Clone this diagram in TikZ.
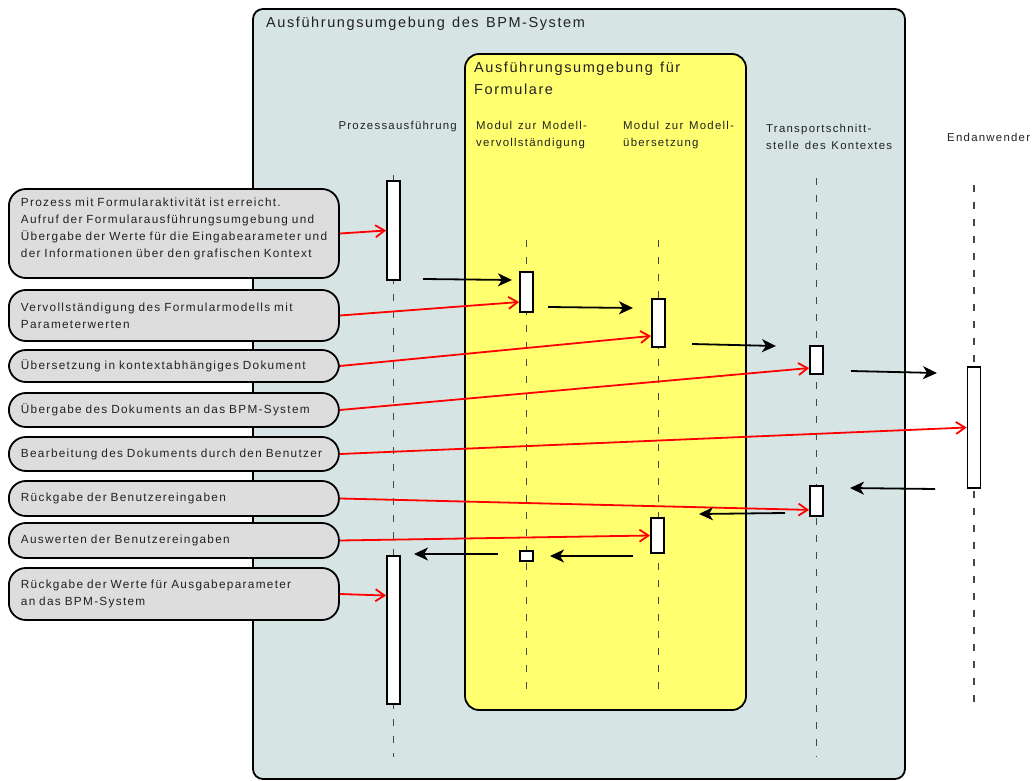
\documentclass[tikz,border=0pt]{standalone}
\usepackage{fontspec}
\setmainfont{Liberation Sans}
\newfontfamily\lblfont[LetterSpace=11, WordSpace=1.6]{Liberation Sans}
\newfontfamily\ttlfont[LetterSpace=11, WordSpace=1.3]{Liberation Sans}
\usepackage{xcolor}
\usepackage{tikz}
\usetikzlibrary{arrows.meta,calc,positioning}

\definecolor{bpmbg}{RGB}{214,228,228}
\definecolor{formyellow}{RGB}{255,255,112}
\definecolor{notegray}{RGB}{221,221,221}
\definecolor{txtgray}{RGB}{34,34,34}

\begin{document}
\begin{tikzpicture}[x=1pt, y=-1pt,
    envbox/.style={draw=black, line width=1.8pt},
    note/.style={draw=black, line width=1.8pt, fill=notegray, rounded corners=17pt, anchor=west,
        text width=306pt, inner xsep=12pt, inner ysep=0pt, align=left, text=txtgray,
        font=\lblfont\fontsize{11.8}{17}\selectfont,
        execute at begin node={\rightskip=0pt minus 60pt}},
    act/.style={draw=black, line width=1.8pt, fill=white, minimum width=13pt, inner sep=0pt},
    lifeline/.style={draw=black!72, line width=1.1pt, dash pattern=on 7pt off 10pt},
    msg/.style={line width=1.8pt, -{Stealth[length=14pt, width=13pt, inset=4pt]}},
    call/.style={red, line width=1.8pt, -{Straight Barb[length=9pt, width=12pt]}},
    lbl/.style={font=\lblfont\fontsize{11.4}{17}\selectfont, text=txtgray, inner sep=0pt, align=left},
    ttl/.style={font=\ttlfont\fontsize{14.5}{22}\selectfont, text=txtgray, inner sep=0pt, align=left}]

    \useasboundingbox (0,0) rectangle (1034,781);

    % BPM system and form environment
    \draw[envbox, fill=bpmbg, rounded corners=10pt] (253,9) rectangle (905,779);
    \node[ttl, anchor=west] (bpm) at (266,24) {Ausführungsumgebung des BPM-System};
    \draw[envbox, fill=formyellow, rounded corners=14pt] (465,54) rectangle (746,710);
    \node[ttl, anchor=west] (forms) at (474,78) {Ausführungsumgebung für\\Formulare};

    % lifeline heads
    \node[lbl, anchor=east] (proc) at (457,127) {Prozessausführung};
    \node[lbl, anchor=west] (compl) at (476,135.5) {Modul zur Modell-\\vervollständigung};
    \node[lbl, anchor=west] (transl) at (623,135.5) {Modul zur Modell-\\übersetzung};
    \node[lbl, anchor=west] (transp) at (766,136.5) {Transportschnitt-\\stelle des Kontextes};
    \node[lbl, anchor=west] (user) at (947,137) {Endanwender};

    % lifelines
    \coordinate (l1t) at (393.5,175); \coordinate (l1b) at (393.5,757);
    \coordinate (l2t) at (526.5,240); \coordinate (l2b) at (526.5,690);
    \coordinate (l3t) at (658.5,240); \coordinate (l3b) at (658.5,690);
    \coordinate (l4t) at (816.5,178); \coordinate (l4b) at (816.5,757);
    \coordinate (l5t) at (974,185);   \coordinate (l5b) at (974,710);
    \draw[lifeline] (l1t) -- (l1b);
    \draw[lifeline] (l2t) -- (l2b);
    \draw[lifeline] (l3t) -- (l3b);
    \draw[lifeline] (l4t) -- (l4b);
    \draw[lifeline] (l5t) -- (l5b);

    % activations
    \node[act, minimum height=99] (a1) at (393.5,230.5) {};
    \node[act, minimum height=40] (a2) at (526.5,292) {};
    \node[act, minimum height=48] (a3) at (658.5,323) {};
    \node[act, minimum height=28] (a4) at (816.5,360) {};
    \node[act, minimum height=121] (a5) at (974,427.5) {};
    \node[act, minimum height=30] (a6) at (816.5,501) {};
    \node[act, minimum height=35] (a7) at (657.5,535.5) {};
    \node[act, minimum height=10] (a8) at (526.5,556) {};
    \node[act, minimum height=148] (a9) at (393.5,630) {};

    % notes on the left
    \node[note, minimum height=89] (b1) at (8,233.5) {Prozess mit Formularaktivität ist erreicht.\\
        Aufruf der Formularausführungsumgebung und\\
        Übergabe der Werte für die Eingabearameter und\\
        der Informationen über den grafischen Kontext\\[-5pt]\mbox{}};
    \node[note, minimum height=51] (b2) at (8,315.5) {Vervollständigung des Formularmodells mit\\Parameterwerten};
    \node[note, minimum height=32] (b3) at (8,366) {Übersetzung in kontextabhängiges Dokument};
    \node[note, minimum height=34] (b4) at (8,410) {Übergabe des Dokuments an das BPM-System};
    \node[note, minimum height=34] (b5) at (8,454) {Bearbeitung des Dokuments durch den Benutzer};
    \node[note, minimum height=35] (b6) at (8,498.5) {Rückgabe der Benutzereingaben};
    \node[note, minimum height=35] (b7) at (8,540.5) {Auswerten der Benutzereingaben};
    \node[note, minimum height=52] (b8) at (8,594) {Rückgabe der Werte für Ausgabeparameter\\an das BPM-System};

    % calls from the notes
    \draw[call] (b1.east) -- (a1.west);
    \draw[call] (b2.east) -- ($(a2.north west)!0.74!(a2.south west)$);
    \draw[call] (b3.east) -- ($(a3.north west)!0.76!(a3.south west)$);
    \draw[call] (b4.east) -- ($(a4.north west)!0.77!(a4.south west)$);
    \draw[call] (b5.east) -- (a5.west);
    \draw[call] (b6.east) -- ($(a6.north west)!0.78!(a6.south west)$);
    \draw[call] (b7.east) -- (a7.west);
    \draw[call] (b8.east) -- ($(a9.north west)!0.27!(a9.south west)$);

    % messages between the lifelines
    \coordinate (m1s) at (423,279); \coordinate (m1e) at (512,280);
    \coordinate (m2s) at (548,307); \coordinate (m2e) at (633,308);
    \coordinate (m3s) at (692,344); \coordinate (m3e) at (776,346);
    \coordinate (m4s) at (851,371); \coordinate (m4e) at (937,373);
    \coordinate (m5s) at (935,489); \coordinate (m5e) at (850,488);
    \coordinate (m6s) at (785,513); \coordinate (m6e) at (699,514);
    \coordinate (m7s) at (633,556); \coordinate (m7e) at (550,556);
    \coordinate (m8s) at (498,554); \coordinate (m8e) at (414,554);
    \draw[msg] (m1s) -- (m1e);
    \draw[msg] (m2s) -- (m2e);
    \draw[msg] (m3s) -- (m3e);
    \draw[msg] (m4s) -- (m4e);
    \draw[msg] (m5s) -- (m5e);
    \draw[msg] (m6s) -- (m6e);
    \draw[msg] (m7s) -- (m7e);
    \draw[msg] (m8s) -- (m8e);
\end{tikzpicture}
\end{document}
